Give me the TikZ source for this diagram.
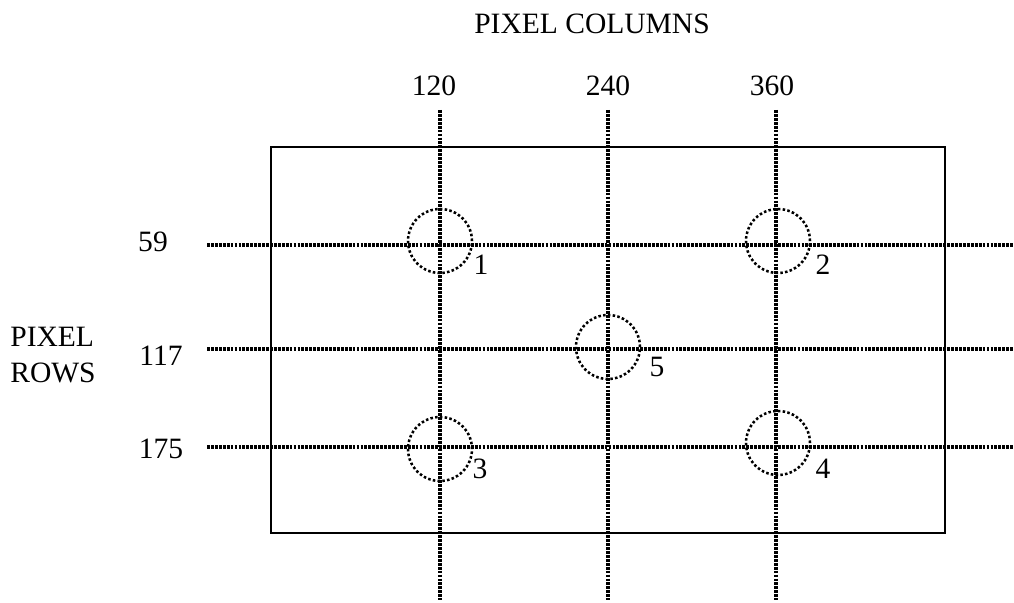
\documentclass[tikz,border=0pt]{standalone}
\usepackage{fontspec}
\setmainfont{Liberation Serif}
\usetikzlibrary{positioning}

\tikzset{
	gridline/.style = {line width=2.4pt, dash pattern=on 2pt off 0.8pt},
	spot/.style = {circle, draw, line width=1.8pt, dash pattern=on 1.8pt off 1.6pt,
		minimum size=45.5pt, inner sep=0pt},
	tag/.style = {font=\fontsize{21}{25}\selectfont, inner sep=0pt}
}

\begin{document}
\begin{tikzpicture}[x=0.025cm, y=-0.025cm]
	\useasboundingbox (0,0) rectangle (1014,603);
	
	% frame
	\coordinate (tl) at (271,147);
	\coordinate (br) at (945,533);
	\draw[line width=1.3pt] (tl) rectangle (br);
	
	% column lines
	\coordinate (c1t) at (440,110);
	\coordinate (c1b) at (440,600);
	\coordinate (c2t) at (608,110);
	\coordinate (c2b) at (608,600);
	\coordinate (c3t) at (776,110);
	\coordinate (c3b) at (776,600);
	\draw[gridline] (c1t) -- (c1b);
	\draw[gridline] (c2t) -- (c2b);
	\draw[gridline] (c3t) -- (c3b);
	
	% row lines
	\coordinate (r1l) at (207,245);
	\coordinate (r1r) at (1014,245);
	\coordinate (r2l) at (207,349);
	\coordinate (r2r) at (1014,349);
	\coordinate (r3l) at (207,447);
	\coordinate (r3r) at (1014,447);
	\draw[gridline] (r1l) -- (r1r);
	\draw[gridline] (r2l) -- (r2r);
	\draw[gridline] (r3l) -- (r3r);
	
	% spots
	\node[spot] (1) at (440,241) {};
	\node[spot] (2) at (778,241) {};
	\node[spot] (3) at (440,449) {};
	\node[spot] (4) at (778,443) {};
	\node[spot] (5) at (608,347) {};
	
	\node[tag] (l1) at (481,265) {1};
	\node[tag] (l2) at (823,265) {2};
	\node[tag] (l3) at (480,469) {3};
	\node[tag] (l4) at (823,469) {4};
	\node[tag] (l5) at (657,367) {5};
	
	% axis texts
	\node[tag] (cols) at (592,24) {PIXEL COLUMNS};
	\node[tag] (x120) at (434,86) {120};
	\node[tag] (x240) at (608,86) {240};
	\node[tag] (x360) at (772,86) {360};
	
	\node[tag] (y59) at (153,242) {59};
	\node[tag] (y117) at (161,356) {117};
	\node[tag] (y175) at (161,449) {175};
	
	\node[tag, align=left] (rows) at (53,355) {PIXEL\\ROWS};
\end{tikzpicture}
\end{document}
